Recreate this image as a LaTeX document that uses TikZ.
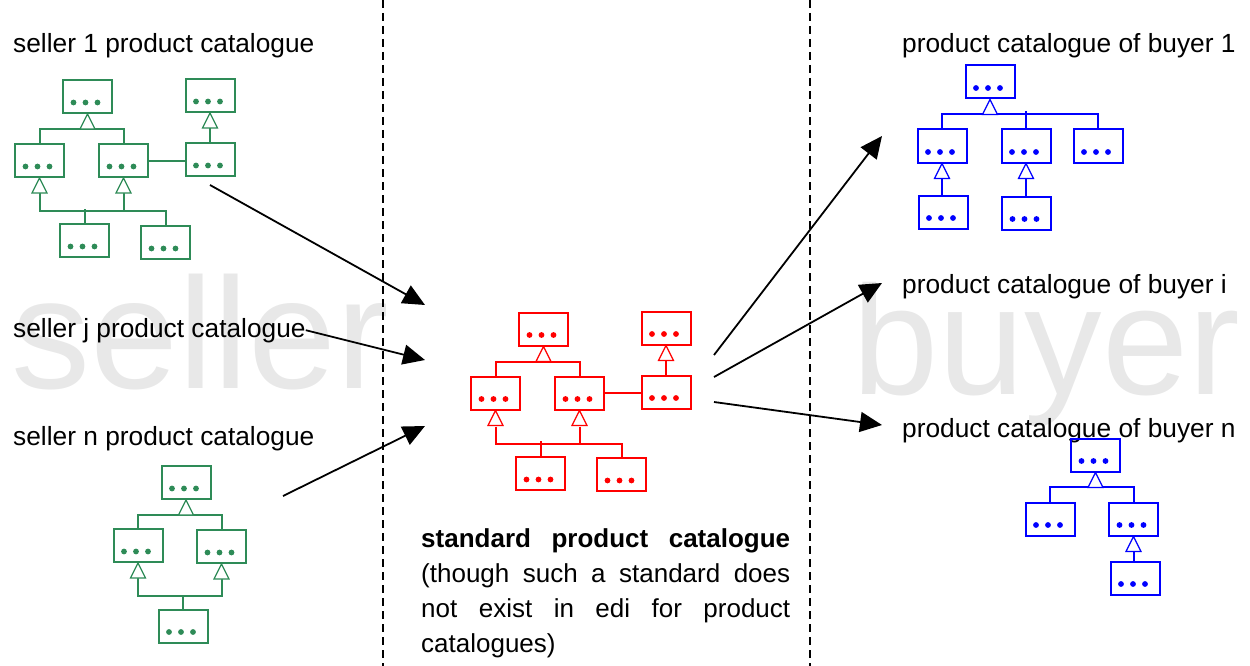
\documentclass[tikz,border=0pt]{standalone}
\usepackage{fontspec}
\setmainfont{Liberation Sans}
\usetikzlibrary{arrows.meta,calc}
\definecolor{catgreen}{RGB}{46,139,87}
\definecolor{catred}{RGB}{255,0,0}
\definecolor{catblue}{RGB}{0,0,255}
\definecolor{markgray}{RGB}{232,232,232}
% hollow generalisation triangle under a class box
\newcommand\gtri[1]{\draw[gentri] (#1.south) -- ++(-7.5,15) -- ++(15,0) -- cycle;}
\begin{document}
\begin{tikzpicture}[x=1pt,y=-1pt,
  catbox/.style={draw, line width=2pt, minimum width=49pt, minimum height=33pt, inner sep=0pt,
    path picture={\foreach \dx in {-14,-2,10}{\fill ([shift={(\dx,6)}]path picture bounding box.center) circle (2.9);}}},
  link/.style={line width=2pt},
  gentri/.style={line width=1.2pt, fill=white, line join=miter},
  flow/.style={line width=1.8pt, black, -{Triangle[length=22pt,width=20pt]}},
  captext/.style={anchor=base west, inner sep=0pt, font=\fontsize{26.3}{35}\selectfont},
  wmark/.style={anchor=base west, inner sep=0pt, text=markgray},
  divider/.style={line width=1.4pt, dash pattern=on 8pt off 5pt}
]
\useasboundingbox (0,0) rectangle (1250,666);

% background words
\node[wmark, font=\fontsize{158}{158}\selectfont] (wseller) at (11,388) {seller};
\node[wmark, font=\fontsize{155}{155}\selectfont] (wbuyer) at (852,394) {buyer};

% column dividers
\draw[divider] (383,0) -- (383,666);
\draw[divider] (810,0) -- (810,666);

% captions
\node[captext] (s1) at (13,53) {seller 1 product catalogue};
\node[captext] (sj) at (13,337) {seller j product catalogue};
\node[captext] (sn) at (13,445) {seller n product catalogue};
\node[captext] (b1) at (902,53) {product catalogue of buyer 1};
\node[captext] (bi) at (902,293) {product catalogue of buyer i};
\node[captext] (bn) at (902,437) {product catalogue of buyer n};

\node[anchor=north west, inner sep=0pt, align=left, font=\fontsize{26}{35}\selectfont] (std) at (421,528)
  {\hbox to 369pt{\bfseries standard\hfill product\hfill catalogue}\\
   \hbox to 369pt{(though\hfill such\hfill a\hfill standard\hfill does}\\
   \hbox to 369pt{not\hfill exist\hfill in\hfill edi\hfill for\hfill product}\\
   \hbox to 369pt{catalogues)\hfill}};

% seller 1 catalogue
\begin{scope}[color=catgreen]
\node[catbox] (A) at (87.5,96.5) {};
\node[catbox] (B) at (210,95.5) {};
\node[catbox] (C) at (39.5,160.5) {};
\node[catbox] (D) at (123.5,160.5) {};
\node[catbox] (E) at (210,159.5) {};
\node[catbox] (F) at (84.5,240.5) {};
\node[catbox] (G) at (165.5,242.5) {};
\draw[link] (C.north) |- ($(A.south)+(0,15)$) -| (D.north);
\draw[link] ($(B.south)+(0,15)$) -- (E.north);
\draw[link] (D.east) -- (D.east -| E.west);
\draw[link] ($(C.south)+(0,15)$) -- ($(C.south)+(0,33)$) -| (G.north);
\draw[link] ($(D.south)+(0,15)$) -- ($(D.south)+(0,33)$);
\draw[link] (F.north) -- ++(0,-14);
\gtri{A}\gtri{B}\gtri{C}\gtri{D}
\end{scope}

% seller n catalogue
\begin{scope}[color=catgreen]
\node[catbox] (H) at (186,482.5) {};
\node[catbox] (I) at (138,545.5) {};
\node[catbox] (J) at (221.5,546.5) {};
\node[catbox] (K) at (183,626) {};
\draw[link] (I.north) |- ($(H.south)+(0,15)$) -| (J.north);
\draw[link] ($(I.south)+(0,15)$) -- ($(I.south)+(0,33)$) -| ($(J.south)+(0,15)$);
\draw[link] (K.north) -- ++(0,-14);
\gtri{H}\gtri{I}\gtri{J}
\end{scope}

% standard catalogue
\begin{scope}[color=catred]
\node[catbox] (R1) at (543.5,329) {};
\node[catbox] (R2) at (666,328) {};
\node[catbox] (R3) at (495.5,393) {};
\node[catbox] (R4) at (579.5,393) {};
\node[catbox] (R5) at (666,392) {};
\node[catbox] (R6) at (540.5,473.5) {};
\node[catbox] (R7) at (621.5,474.5) {};
\draw[link] (R3.north) |- ($(R1.south)+(0,15)$) -| (R4.north);
\draw[link] ($(R2.south)+(0,15)$) -- (R5.north);
\draw[link] (R4.east) -- (R4.east -| R5.west);
\draw[link] ($(R3.south)+(0,16)$) -- ($(R3.south)+(0,33)$) -| (R7.north);
\draw[link] ($(R4.south)+(0,16)$) -- ($(R4.south)+(0,33)$);
\draw[link] (R6.north) -- ++(0,-15);
\gtri{R1}\gtri{R2}\gtri{R3}\gtri{R4}
\end{scope}

% buyer 1 catalogue
\begin{scope}[color=catblue]
\node[catbox] (U1) at (990,82) {};
\node[catbox] (U2) at (942,146) {};
\node[catbox] (U3) at (1026,146) {};
\node[catbox] (U4) at (1098,146) {};
\node[catbox] (U5) at (943,212) {};
\node[catbox] (U6) at (1026.5,213) {};
\draw[link] (U2.north) |- ($(U1.south)+(0,15)$) -| (U4.north);
\draw[link] (U3.north) -- ++(0,-17);
\draw[link] ($(U2.south)+(0,15)$) -- (U2.south |- U5.north);
\draw[link] ($(U3.south)+(0,15)$) -- (U3.south |- U6.north);
\gtri{U1}\gtri{U2}\gtri{U3}
\end{scope}

% buyer n catalogue
\begin{scope}[color=catblue]
\node[catbox] (V1) at (1095.5,455) {};
\node[catbox] (V2) at (1050,519) {};
\node[catbox] (V3) at (1133.5,519) {};
\node[catbox] (V4) at (1135,578) {};
\draw[link] (V2.north) |- ($(V1.south)+(0,14)$) -| (V3.north);
\draw[link] ($(V3.south)+(0,15)$) -- (V3.south |- V4.north);
\gtri{V1}\gtri{V3}
\end{scope}

% flows into and out of the standard catalogue
\coordinate (o1) at (210,185);
\coordinate (on) at (283,496);
\coordinate (in1) at (425,305);
\coordinate (inj) at (425,360);
\coordinate (inn) at (425,426);
\coordinate (out1) at (714,355);
\coordinate (outi) at (714,377);
\coordinate (outn) at (714,402);
\coordinate (to1) at (882,136);
\coordinate (toi) at (882,283);
\coordinate (ton) at (882,425);
\draw[flow] (o1) -- (in1);
\draw[flow] (sj.east) -- (inj);
\draw[flow] (on) -- (inn);
\draw[flow] (out1) -- (to1);
\draw[flow] (outi) -- (toi);
\draw[flow] (outn) -- (ton);
\end{tikzpicture}
\end{document}
